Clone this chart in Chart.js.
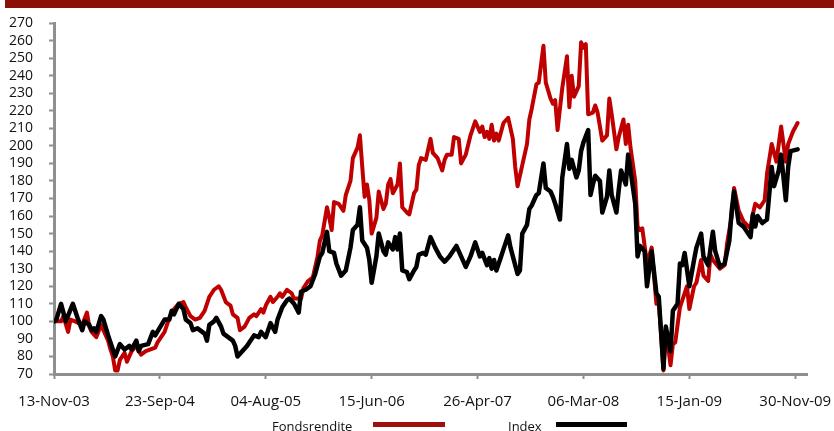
<!DOCTYPE html>
<html>
<head>
<meta charset="utf-8">
<script src="https://cdn.jsdelivr.net/npm/chart.js@4/dist/chart.umd.min.js"></script>
<style>
    body { margin: 0; background: #fff; font-family: "Open Sans", sans-serif; }
    #wrap { position: relative; width: 834px; height: 431px; overflow: hidden; }
    #topBar { position: absolute; left: 5px; top: 0; width: 829px; height: 8px; background: #8c1006; }
    #chart { position: absolute; left: 0; top: 0; }
    .legend-text { position: absolute; font-size: 13px; color: #111; line-height: 16px; }
    .legend-line { position: absolute; height: 5px; }
</style>
</head>
<body>
<div id="wrap">
    <div id="topBar"></div>
    <canvas id="chart" width="834" height="431"></canvas>
    <div id="legend"></div>
</div>
<script>
// x axis ticks every 45 weeks
const tickLabels = ["13-Nov-03", "23-Sep-04", "04-Aug-05", "15-Jun-06", "26-Apr-07", "06-Mar-08", "15-Jan-09", "30-Nov-09"];

// Fondsrendite: week number since 13-Nov-03 and value
const fondsWeeks = [0, 3, 4, 6, 7, 9, 12, 14, 15, 16, 18, 20, 23, 24, 25, 26, 27, 28, 30, 31, 33, 35, 37, 39, 41, 43, 44, 47, 49, 51,
    53, 55, 56, 58, 60, 62, 64, 66, 68, 70, 71, 73, 75, 76, 78, 79, 81, 83, 85, 86, 88, 89, 90, 92, 93, 95, 96, 97, 99, 101,
    102, 105, 106, 108, 110, 112, 113, 114, 116, 117, 118, 119, 121, 123, 124, 126, 127, 129, 130, 131, 132, 133, 134, 135, 137, 138, 139, 140, 141, 142,
    143, 144, 146, 147, 148, 150, 151, 153, 154, 155, 156, 158, 160, 161, 163, 165, 166, 167, 169, 170, 172, 173, 175, 177, 179, 181, 182, 183, 184, 185,
    186, 187, 188, 189, 191, 193, 195, 196, 197, 199, 201, 202, 203, 205, 206, 208, 209, 211, 212, 213, 214, 216, 218, 219, 220, 221, 223, 224, 225, 226,
    227, 229, 230, 231, 233, 235, 236, 237, 239, 240, 242, 243, 244, 245, 247, 248, 249, 250, 252, 254, 256, 257, 259, 260, 262, 263, 264, 266, 267, 269,
    270, 272, 273, 275, 276, 278, 279, 280, 283, 285, 286, 288, 289, 291, 293, 296, 297, 298, 300, 302, 303, 305, 307, 308, 309, 311, 312, 314, 316];
const fondsValues = [100, 100, 103, 94, 101, 100, 98, 105, 97, 94, 91, 98, 89, 84, 80, 72, 72, 78, 82, 77, 83, 86, 81, 83, 84, 85, 88, 94, 102, 107,
    110, 111, 108, 103, 101, 102, 106, 114, 118, 120, 118, 111, 109, 104, 102, 95, 97, 102, 104, 103, 107, 105, 109, 114, 111, 114, 116, 114, 118, 116,
    113, 113, 119, 123, 125, 137, 146, 149, 165, 159, 152, 168, 167, 163, 172, 180, 193, 199, 206, 188, 171, 178, 169, 150, 159, 174, 169, 164, 167, 178,
    181, 173, 178, 190, 165, 162, 161, 173, 175, 189, 193, 192, 204, 196, 193, 186, 192, 195, 195, 205, 204, 190, 195, 206, 214, 208, 211, 205, 208, 204,
    212, 203, 207, 203, 213, 216, 204, 188, 177, 189, 201, 215, 221, 235, 236, 257, 236, 227, 224, 226, 209, 233, 251, 222, 240, 228, 234, 259, 256, 258,
    218, 219, 223, 219, 203, 206, 227, 218, 198, 205, 215, 201, 212, 199, 180, 154, 152, 153, 133, 142, 110, 112, 72, 96, 75, 87, 88, 108, 112, 120,
    107, 120, 122, 135, 126, 123, 138, 135, 130, 132, 144, 160, 176, 163, 157, 153, 161, 167, 165, 169, 184, 201, 191, 201, 211, 191, 201, 208, 213];

// Index: week number since 13-Nov-03 and value
const indexWeeks = [0, 1, 3, 5, 8, 10, 12, 13, 15, 16, 17, 18, 20, 21, 23, 24, 26, 28, 30, 32, 33, 35, 36, 37, 40, 42, 43, 47, 49, 50,
    51, 53, 55, 56, 58, 59, 61, 64, 65, 66, 68, 69, 71, 72, 74, 76, 77, 78, 82, 85, 87, 88, 90, 92, 94, 95, 97, 99, 100, 102,
    104, 105, 107, 109, 111, 113, 114, 116, 117, 119, 120, 122, 124, 126, 127, 129, 130, 131, 133, 134, 135, 137, 138, 140, 141, 142, 144, 145, 146, 147,
    148, 150, 151, 153, 154, 155, 157, 158, 160, 162, 164, 166, 168, 171, 173, 175, 177, 179, 181, 182, 184, 185, 186, 187, 188, 190, 191, 193, 194, 195,
    197, 198, 199, 201, 202, 203, 205, 206, 208, 209, 211, 212, 213, 215, 216, 218, 219, 220, 222, 223, 224, 225, 227, 228, 229, 230, 232, 233, 235, 236,
    237, 239, 240, 241, 243, 244, 245, 247, 248, 249, 251, 252, 254, 256, 257, 259, 260, 262, 263, 265, 266, 267, 268, 270, 272, 273, 275, 276, 278, 280,
    281, 283, 285, 287, 288, 289, 291, 293, 296, 297, 298, 299, 301, 303, 305, 306, 308, 309, 311, 312, 313, 316];
const indexValues = [100, 101, 110, 100, 110, 102, 95, 100, 98, 95, 96, 94, 103, 101, 92, 88, 80, 87, 84, 86, 84, 89, 83, 86, 87, 94, 92, 101, 101, 106,
    104, 110, 107, 101, 99, 95, 96, 93, 89, 98, 100, 102, 97, 93, 91, 89, 86, 80, 86, 92, 91, 94, 91, 99, 94, 101, 108, 112, 113, 110,
    105, 117, 118, 120, 127, 137, 139, 151, 140, 139, 133, 126, 129, 142, 152, 155, 165, 146, 142, 135, 122, 137, 150, 140, 138, 145, 141, 148, 141, 150,
    129, 128, 124, 129, 131, 138, 139, 138, 148, 142, 137, 134, 137, 143, 137, 131, 137, 145, 137, 139, 132, 136, 130, 135, 129, 137, 141, 149, 142, 137,
    127, 129, 150, 155, 164, 166, 172, 173, 190, 176, 174, 171, 167, 158, 182, 201, 187, 192, 182, 186, 197, 202, 209, 172, 178, 183, 180, 162, 171, 186,
    172, 162, 175, 186, 178, 195, 186, 167, 137, 143, 140, 120, 140, 116, 114, 73, 97, 83, 106, 110, 133, 132, 139, 120, 135, 142, 150, 137, 132, 151,
    140, 131, 133, 146, 163, 174, 156, 154, 148, 161, 154, 160, 156, 158, 188, 177, 186, 195, 169, 188, 197, 198];

const yMin = 70;
const yMax = 270;

document.addEventListener("DOMContentLoaded", () => {
    drawChart();
    drawLegend();
});

function toPoints(weeks, values) {
    return weeks.map((w, i) => ({ x: w, y: values[i] }));
}

function drawChart() {
    const ctx = document.getElementById("chart").getContext("2d");
    const axisGray = "#8f8f8f";

    new Chart(ctx, {
        type: "line",
        data: {
            datasets: [
                {
                    label: "Index",
                    data: toPoints(indexWeeks, indexValues),
                    borderColor: "#000000",
                    borderWidth: 4.5,
                    order: 0
                },
                {
                    label: "Fondsrendite",
                    data: toPoints(fondsWeeks, fondsValues),
                    borderColor: "#c00000",
                    borderWidth: 4,
                    order: 1
                }
            ]
        },
        options: {
            responsive: false,
            animation: false,
            events: [],
            elements: {
                point: { radius: 0 },
                line: { tension: 0, borderJoinStyle: "round", borderCapStyle: "round" }
            },
            layout: { padding: { left: 0, right: 27, top: 21, bottom: 0 } },
            plugins: {
                legend: { display: false },
                tooltip: { enabled: false }
            },
            scales: {
                x: {
                    type: "linear",
                    min: 0,
                    max: 320,
                    afterFit: (scale) => {
                        // keep the plot edge where the reference has it
                        scale.height = 57;
                        scale.paddingLeft = 0;
                        scale.paddingRight = 0;
                    },
                    border: { display: true, color: axisGray, width: 3 },
                    grid: { drawOnChartArea: false, drawTicks: true, tickLength: 5, tickColor: axisGray, tickWidth: 2 },
                    ticks: {
                        stepSize: 45,
                        includeBounds: false,
                        autoSkip: false,
                        maxRotation: 0,
                        padding: 14,
                        color: "#111",
                        font: { family: "Open Sans", size: 15 },
                        callback: (v) => tickLabels[v / 45] ?? ""
                    }
                },
                y: {
                    min: yMin,
                    max: yMax,
                    afterFit: (scale) => { scale.width = 54; },
                    border: { display: true, color: axisGray, width: 3 },
                    grid: { drawOnChartArea: false, drawTicks: true, tickLength: 5, tickColor: axisGray, tickWidth: 2 },
                    ticks: {
                        stepSize: 10,
                        autoSkip: false,
                        padding: 16,
                        color: "#111",
                        font: { family: "Open Sans", size: 14, lineHeight: 1 }
                    }
                }
            }
        }
    });
}

function drawLegend() {
    const legend = document.getElementById("legend");
    const items = [
        { text: "Fondsrendite", color: "#9e1010", textLeft: 272, lineLeft: 373, width: 72 },
        { text: "Index", color: "#000000", textLeft: 508, lineLeft: 556, width: 71 }
    ];
    items.forEach(item => {
        const label = document.createElement("div");
        label.className = "legend-text";
        label.style.left = item.textLeft + "px";
        label.style.top = "418px";
        label.innerText = item.text;
        legend.appendChild(label);

        const line = document.createElement("div");
        line.className = "legend-line";
        line.style.left = item.lineLeft + "px";
        line.style.top = "422px";
        line.style.width = item.width + "px";
        line.style.background = item.color;
        legend.appendChild(line);
    });
}
</script>
</body>
</html>
